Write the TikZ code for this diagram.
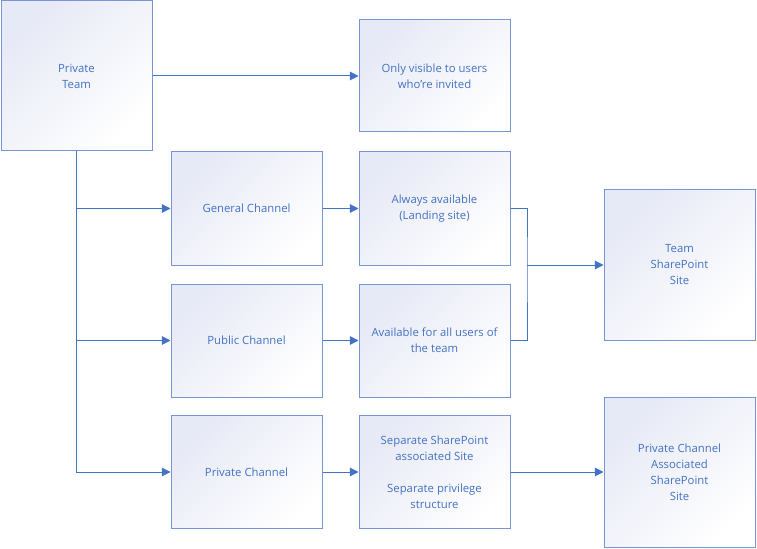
\documentclass[tikz,border=0pt]{standalone}
\usepackage{fontspec}
\setmainfont{Open Sans}
\usetikzlibrary{arrows.meta, positioning}
\definecolor{my_blue}{RGB}{68, 114, 196}
\definecolor{my_edge}{RGB}{120, 150, 210}
\definecolor{my_lavender}{RGB}{230, 233, 246}
\tikzset {
  box/.style = {draw=my_edge, line width=0.75pt, rectangle, align=center, text=my_blue,
    minimum width=113.25pt, minimum height=84.75pt, inner sep=2pt,
    top color=my_lavender, bottom color=white, shading angle=45,
    font=\fontsize{8.5}{12}\selectfont},
  bigbox/.style = {box, minimum height=112.5pt},
  line/.style = {-{Triangle[length=6.5pt, width=6.5pt]}, line width=0.75pt, color=my_blue},
  plain/.style = {line width=0.75pt, color=my_blue}
}

\begin{document}
\begin{tikzpicture}[x=0.75pt, y=-0.75pt]
    \useasboundingbox (0,0) rectangle (757,549);

    \node[bigbox, name=team] (team) at (76.5,76) {Private\\Team};
    \node[box, minimum height=84pt] (visible) at (434.5,76) {Only visible to users\\who’re invited};

    \node[box] (general) at (246.5,208.5) {General Channel};
    \node[box] (always) at (434.5,208.5) {Always available\\(Landing site)};
    \node[box] (public) at (246.5,340.5) {Public Channel};
    \node[box] (all) at (434.5,340.5) {Available for all users of\\the team};
    \node[box] (private) at (246.5,472) {Private Channel};
    \node[box] (separate) at (434.5,472) {Separate SharePoint\\associated Site\\[12pt]Separate privilege\\structure};

    \node[bigbox] (spsite) at (679.5,265) {Team\\SharePoint\\Site};
    \node[bigbox] (pcsite) at (679.5,472) {Private Channel\\Associated\\SharePoint\\Site};

    \draw[line] (team) -- (visible);
    \draw[line] (team.south) |- (general.west);
    \draw[line] (team.south) |- (public.west);
    \draw[line] (team.south) |- (private.west);

    \draw[line] (general) -- (always);
    \draw[line] (public) -- (all);
    \draw[line] (private) -- (separate);

    \coordinate (join) at (527,265);
    \draw[plain] (always.east) -| (join) |- (all.east);
    \draw[line] (join) -- (spsite.west);
    \draw[line] (separate) -- (pcsite);

  \end{tikzpicture}
\end{document}
